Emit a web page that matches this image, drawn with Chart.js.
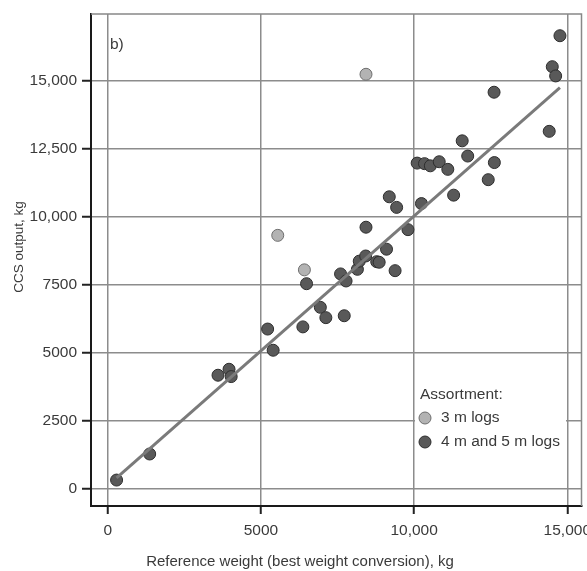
<!DOCTYPE html>
<html>
<head>
<meta charset="utf-8">
<script src="https://cdn.jsdelivr.net/npm/chart.js@4.4.1/dist/chart.umd.min.js"></script>
<style>
    html, body { margin: 0; padding: 0; background: #ffffff; }
    #wrap { width: 587px; height: 571px; }
</style>
</head>
<body>
<div id="wrap"><canvas id="chart" width="587" height="571"></canvas></div>
<script>
// tick positions shown on the axes
const xTicks = [0, 5000, 10000, 15000];
const yTicks = [0, 2500, 5000, 7500, 10000, 12500, 15000];

const xTitle = 'Reference weight (best weight conversion), kg';
const yTitle = 'CCS output, kg';
const panelLabel = 'b)';
const legendTitle = 'Assortment:';
const seriesNames = ['3 m logs', '4 m and 5 m logs'];

// 3 m logs
const logs3mX = [8430, 5550, 6420];
const logs3mY = [15250, 9320, 8050];

// 4 m and 5 m logs
const logs45mX = [290, 1370, 3600, 3960, 4030, 5220, 5400, 6370, 6490, 6940,
    7120, 7720, 7600, 7780, 8150, 8210, 8420, 8780, 8860, 9380,
    9100, 8430, 9800, 9430, 9190, 10240, 11290, 12420, 10100, 10340,
    10530, 10820, 11100, 11750, 11570, 12620, 12610, 14410, 14510, 14620, 14760];
const logs45mY = [310, 1270, 4170, 4390, 4120, 5870, 5090, 5950, 7540, 6670,
    6290, 6360, 7900, 7640, 8070, 8370, 8560, 8350, 8330, 8020,
    8810, 9620, 9530, 10350, 10740, 10490, 10800, 11370, 11980, 11960,
    11880, 12030, 11750, 12240, 12800, 12000, 14590, 13150, 15530, 15190, 16670];

// fitted line end points
const fitX = [290, 14760];
const fitY = [395, 14760];

const toPoints = (xs, ys) => xs.map((x, i) => ({ x: x, y: ys[i] }));

const FONT = "'Liberation Sans', Arial, sans-serif";
const TEXT = '#3a3a3a';
const DARK = '#595959';
const LIGHT = '#b3b3b3';

const fmt = v => v >= 10000 ? v.toLocaleString('en-US') : String(v);

const framePlugin = {
    id: 'frame',
    beforeDatasetsDraw(chart) {
        const ctx = chart.ctx;
        ctx.save();
        // legend box, blanks the grid behind it
        ctx.fillStyle = '#ffffff';
        ctx.fillRect(415, 388, 151, 65);
        ctx.fillStyle = TEXT;
        ctx.font = '15.5px ' + FONT;
        ctx.textBaseline = 'middle';
        ctx.textAlign = 'left';
        ctx.fillText(legendTitle, 420, 395);
        const ds = chart.data.datasets;
        [0, 1].forEach(i => {
            const y = 418 + i * 24;
            ctx.beginPath();
            ctx.arc(425, y, 6, 0, Math.PI * 2);
            ctx.fillStyle = ds[i].backgroundColor;
            ctx.fill();
            ctx.lineWidth = 1;
            ctx.strokeStyle = ds[i].borderColor;
            ctx.stroke();
            ctx.fillStyle = TEXT;
            ctx.fillText(seriesNames[i], 441, y);
        });

        // panel label
        ctx.textBaseline = 'alphabetic';
        ctx.fillText(panelLabel, 110, 49);
        ctx.restore();
    },
    afterDraw(chart) {
        const ctx = chart.ctx;
        const a = chart.chartArea;
        ctx.save();
        // top and right frame
        ctx.strokeStyle = '#888888';
        ctx.lineWidth = 1.5;
        ctx.beginPath();
        ctx.moveTo(a.left, a.top);
        ctx.lineTo(a.right - 0.5, a.top);
        ctx.lineTo(a.right - 0.5, a.bottom);
        ctx.stroke();

        // axis titles
        ctx.fillStyle = TEXT;
        ctx.textAlign = 'center';
        ctx.textBaseline = 'alphabetic';
        ctx.font = '15px ' + FONT;
        ctx.fillText(xTitle, 300, 566);
        ctx.translate(23, 247);
        ctx.rotate(-Math.PI / 2);
        ctx.font = '13.5px ' + FONT;
        ctx.fillText(yTitle, 0, 0);
        ctx.restore();
    }
};

new Chart(document.getElementById('chart'), {
    type: 'scatter',
    data: {
        datasets: [{
            label: seriesNames[0],
            data: toPoints(logs3mX, logs3mY),
            backgroundColor: LIGHT,
            borderColor: '#6e6e6e',
            borderWidth: 1,
            pointRadius: 6,
            order: 2
        }, {
            label: seriesNames[1],
            data: toPoints(logs45mX, logs45mY),
            backgroundColor: DARK,
            borderColor: '#2e2e2e',
            borderWidth: 1,
            pointRadius: 6,
            order: 3
        }, {
            label: 'fit',
            type: 'line',
            data: toPoints(fitX, fitY),
            borderColor: '#7a7a7a',
            borderWidth: 3,
            pointRadius: 0,
            showLine: true,
            fill: false,
            order: 1
        }]
    },
    options: {
        responsive: false,
        animation: false,
        devicePixelRatio: 1,
        layout: {
            autoPadding: false,
            padding: { left: 0, right: 5, top: 14, bottom: 0 }
        },
        plugins: {
            legend: { display: false },
            tooltip: { enabled: false }
        },
        scales: {
            x: {
                type: 'linear',
                min: -545,
                max: 15480,
                afterBuildTicks: scale => { scale.ticks = xTicks.map(v => ({ value: v })); },
                afterFit: scale => {
                    scale.height = 65;
                    scale.paddingLeft = 0;
                    scale.paddingRight = 0;
                },
                grid: {
                    color: '#8c8c8c',
                    lineWidth: 1.5,
                    tickColor: '#222222',
                    tickLength: 8,
                    tickWidth: 2
                },
                border: { color: '#1a1a1a', width: 2 },
                ticks: {
                    color: TEXT,
                    padding: 7,
                    maxRotation: 0,
                    font: { size: 15.5, family: FONT },
                    callback: v => fmt(v)
                }
            },
            y: {
                type: 'linear',
                min: -645,
                max: 17470,
                afterBuildTicks: scale => { scale.ticks = yTicks.map(v => ({ value: v })); },
                afterFit: scale => {
                    scale.width = 91;
                    scale.paddingTop = 0;
                    scale.paddingBottom = 0;
                },
                grid: {
                    color: '#8c8c8c',
                    lineWidth: 1.5,
                    tickColor: '#222222',
                    tickLength: 9,
                    tickWidth: 2
                },
                border: { color: '#1a1a1a', width: 2 },
                ticks: {
                    color: TEXT,
                    padding: 5,
                    font: { size: 15.5, family: FONT },
                    callback: v => fmt(v)
                }
            }
        }
    },
    plugins: [framePlugin]
});
</script>
</body>
</html>
